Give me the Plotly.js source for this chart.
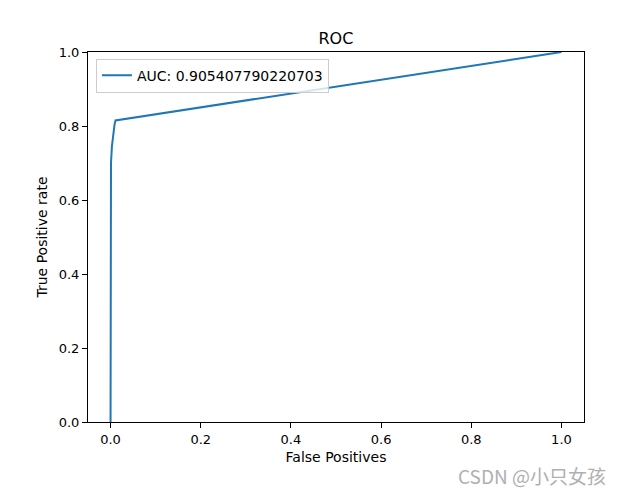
<!DOCTYPE html>
<html>
<head>
<meta charset="utf-8">
<script src="https://cdn.plot.ly/plotly-3.0.1.min.js"></script>
<style>html,body{margin:0;padding:0;background:#fff;}#chart{width:622px;height:494px;}</style>
</head>
<body>
<div id="chart"></div>
<script>
const fpr = [0, 0, 0, 0.001, 0.003, 0.006, 0.009, 0.011, 1.0];
const tpr = [0, 0.3, 0.6, 0.70, 0.745, 0.78, 0.805, 0.815, 1.0];
const seriesName = 'AUC: 0.905407790220703';
const xTicks = [0, 0.2, 0.4, 0.6, 0.8, 1.0];
const yTicks = [0, 0.2, 0.4, 0.6, 0.8, 1.0];
const tickText = ['0.0', '0.2', '0.4', '0.6', '0.8', '1.0'];

const font = 'DejaVu Sans, sans-serif';
const trace = {
  x: fpr, y: tpr, mode: 'lines', name: seriesName,
  line: {color: '#1f77b4', width: 2}
};
const axisCommon = {
  showgrid: false, zeroline: false, showline: true, linecolor: '#000', linewidth: 1,
  mirror: true, ticks: 'outside', ticklen: 5, tickcolor: '#000', tickwidth: 1,
  tickfont: {family: font, size: 13, color: '#000'}
};
const layout = {
  width: 622, height: 494,
  margin: {l: 88, r: 38, t: 52, b: 72},
  paper_bgcolor: '#fff', plot_bgcolor: '#fff',
  title: {text: 'ROC', font: {family: font, size: 16, color: '#000'}, x: 0.54, xanchor: 'center', y: 0.923, yanchor: 'middle'},
  xaxis: Object.assign({}, axisCommon, {
    range: [-0.05, 1.05], tickvals: xTicks, ticktext: tickText,
    title: {text: 'False Positives', font: {family: font, size: 14, color: '#000'}, standoff: 6}
  }),
  yaxis: Object.assign({}, axisCommon, {
    range: [0, 1], tickvals: yTicks, ticktext: tickText,
    title: {text: 'True Positive rate', font: {family: font, size: 14, color: '#000'}, standoff: 7}
  }),
  showlegend: true,
  legend: {
    x: 0.016, y: 0.982, xanchor: 'left', yanchor: 'top',
    bgcolor: 'rgba(255,255,255,0.8)', bordercolor: '#ccc', borderwidth: 1,
    font: {family: font, size: 14, color: '#000'}
  },
  annotations: [{
    text: 'CSDN @小只女孩', xref: 'paper', yref: 'paper', x: 1.048, y: -0.145,
    xanchor: 'right', yanchor: 'middle', showarrow: false,
    font: {family: 'Noto Sans CJK SC, sans-serif', size: 19, color: '#b0b0b0'}
  }]
};
Plotly.newPlot('chart', [trace], layout, {displayModeBar: false, staticPlot: true});
</script>
</body>
</html>
